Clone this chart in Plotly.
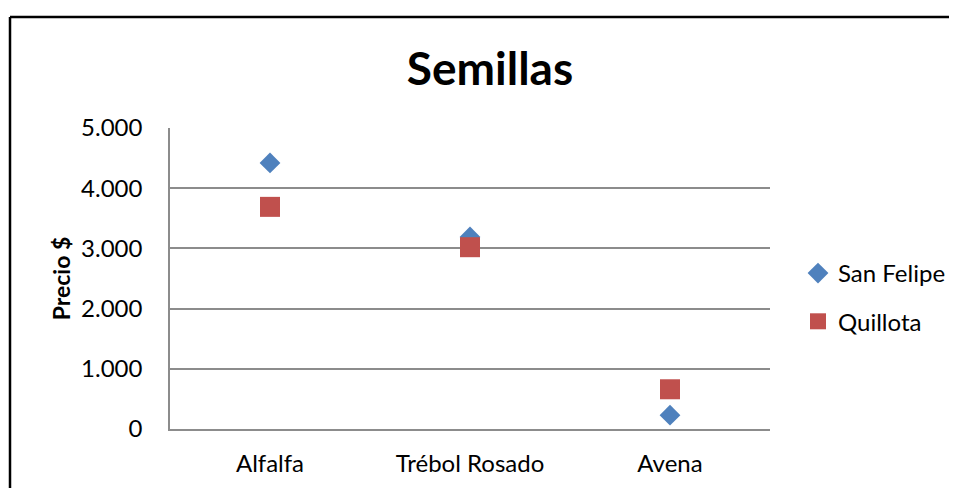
import plotly.graph_objects as go

# -------------------------------------------------
# DATA
# -------------------------------------------------

categorias = ["Alfalfa", "Trébol Rosado", "Avena"]
san_felipe = [4420, 3190, 230]
quillota = [3690, 3020, 660]

y_ticks = [0, 1000, 2000, 3000, 4000, 5000]
y_tick_labels = ["0", "1.000", "2.000", "3.000", "4.000", "5.000"]

FONT = "Lato, 'Liberation Sans', sans-serif"

# page body adds ~8px offset, so positions below are in figure px
L, R, T, B = 162, 195, 120, 67
PW = 957 - L - R
PH = 488 - T - B

# -------------------------------------------------
# CHART
# -------------------------------------------------

fig = go.Figure()

fig.add_trace(go.Scatter(
    x=categorias,
    y=san_felipe,
    mode="markers",
    name="San Felipe",
    legendgroup="sf",
    marker=dict(symbol="diamond", size=16, color="#4F81BD")
))

fig.add_trace(go.Scatter(
    x=categorias,
    y=quillota,
    mode="markers",
    name="Quillota",
    legendgroup="q",
    marker=dict(symbol="square", size=20, color="#C0504D")
))

fig.update_layout(
    width=957,
    height=488,
    margin=dict(l=L, r=R, t=T, b=B),
    paper_bgcolor="white",
    plot_bgcolor="white",
    font=dict(family=FONT, size=24, color="black"),
    title=dict(
        text="<b>Semillas</b>",
        font=dict(family=FONT, size=46, color="black"),
        x=482 / 957,
        xanchor="center",
        xref="container",
        y=1 - 61 / 488,
        yanchor="middle"
    ),
    legend=dict(
        x=(790 - L) / PW,
        xanchor="left",
        y=(488 - B - 289.5) / PH,
        yanchor="middle",
        font=dict(family=FONT, size=24),
        tracegroupgap=14,
        itemwidth=30
    ),
    showlegend=True
)

fig.update_xaxes(
    type="category",
    range=[-0.5, 2.5],
    showgrid=False,
    showline=True,
    linecolor="#8C8C8C",
    linewidth=1.5,
    ticks="",
    ticklabelstandoff=12,
    tickfont=dict(family=FONT, size=24)
)

fig.update_yaxes(
    range=[0, 5000],
    tickvals=y_ticks,
    ticktext=y_tick_labels,
    showgrid=True,
    gridcolor="#8C8C8C",
    gridwidth=1.5,
    showline=True,
    linecolor="#8C8C8C",
    linewidth=1.5,
    zeroline=False,
    ticks="",
    ticklabelstandoff=21,
    tickfont=dict(family=FONT, size=24),
    title=dict(
        text="<b>Precio $</b>",
        font=dict(family=FONT, size=23),
        standoff=4
    )
)

# chart border (Excel chart area frame, only left and top edges visible)
bx = (2 - L) / PW
by = (488 - B - 9) / PH
fig.add_shape(
    type="line", xref="paper", yref="paper",
    x0=bx, x1=bx, y0=-1, y1=by,
    line=dict(color="black", width=2.5), layer="above"
)
fig.add_shape(
    type="line", xref="paper", yref="paper",
    x0=bx, x1=3, y0=by, y1=by,
    line=dict(color="black", width=2.5), layer="above"
)

fig.write_html("out.html")
